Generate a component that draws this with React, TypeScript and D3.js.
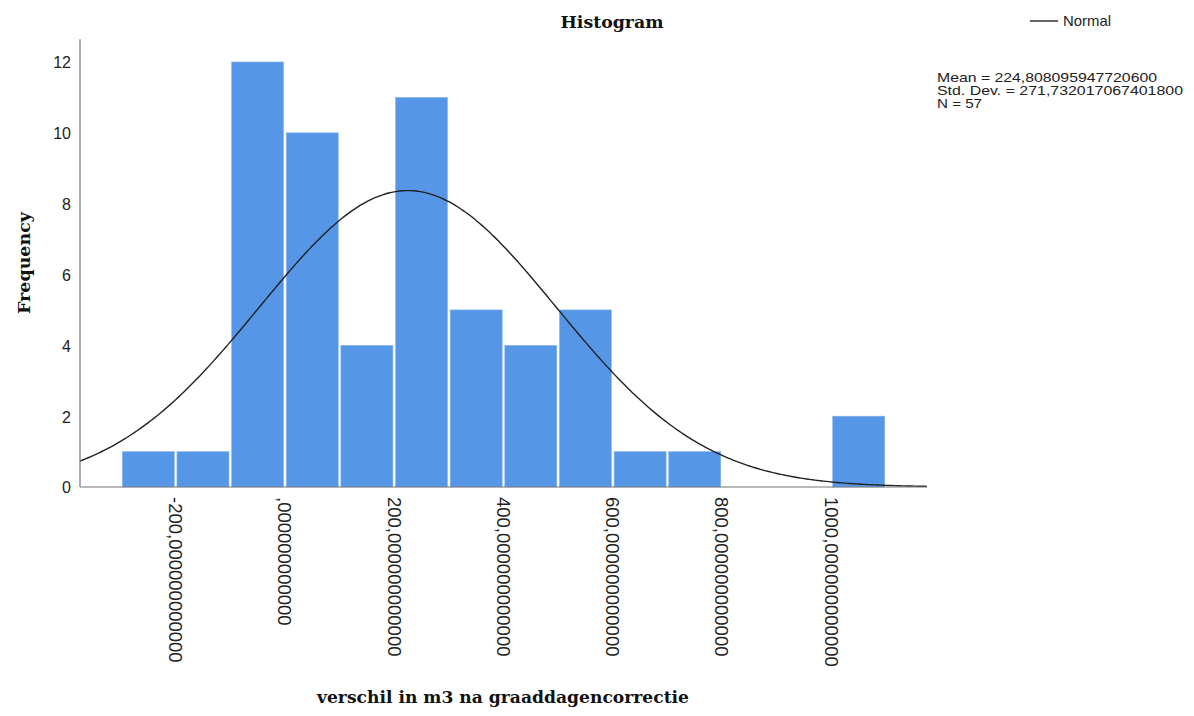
import React from "react";
import * as d3 from "d3";

const binStarts = [-300, -200, -100, 0, 100, 200, 300, 400, 500, 600, 700, 800, 900, 1000];
const counts = [1, 1, 12, 10, 4, 11, 5, 4, 5, 1, 1, 0, 0, 2];
const binWidth = 100;
const xTicks = [-200, 0, 200, 400, 600, 800, 1000];
const xTickLabels = ["-200,000000000000", ",000000000000", "200,000000000000", "400,000000000000", "600,000000000000", "800,000000000000", "1000,000000000000"];
const yTicks = [0, 2, 4, 6, 8, 10, 12];
const mean = 224.8080959477206;
const sd = 271.7320170674018;
const n = 57;
const statLines = ["Mean = 224,808095947720600", "Std. Dev. = 271,732017067401800", "N = 57"];
const statWidths = [220, 246, 45];

export default function App() {
  const W = 1194, H = 716;
  const x = d3.scaleLinear().domain([-375, 1175]).range([80, 927]);
  const y = d3.scaleLinear().domain([0, 12.64]).range([487, 39.3]);
  const pdf = (v: number) => Math.exp(-0.5 * ((v - mean) / sd) ** 2) / (sd * Math.sqrt(2 * Math.PI));
  const pts = d3.range(-375, 1175.01, 5).map((v) => [v, pdf(v) * n * binWidth] as [number, number]);
  const line = d3.line<[number, number]>().x((d) => x(d[0])).y((d) => y(d[1])).curve(d3.curveMonotoneX);
  const sans = "'Liberation Sans', Arial, sans-serif";
  const serif = "'DejaVu Serif', serif";
  return (
    <svg width={W} height={H} style={{ position: "absolute", left: 0, top: 0, background: "#fff" }}>
      <rect x={0} y={0} width={W} height={H} fill="#fff" />
      {binStarts.map((b, i) =>
        counts[i] > 0 ? (
          <rect
            key={i}
            x={x(b) + 1.3}
            y={y(counts[i])}
            width={x(b + binWidth) - x(b) - 2.6}
            height={y(0) - y(counts[i])}
            fill="#5596e6"
            stroke="#8db8ee"
            strokeWidth={0.6}
          />
        ) : null
      )}
      <path d={line(pts) || ""} fill="none" stroke="#222" strokeWidth={1.4} />
      <line x1={80} x2={927} y1={487} y2={487} stroke="#777" strokeWidth={1.2} />
      <line x1={80} x2={80} y1={39.3} y2={487} stroke="#777" strokeWidth={1.2} />
      {yTicks.map((t) => (
        <text key={t} x={71} y={y(t)} dy="0.4em" textAnchor="end" fontFamily={sans} fontSize={16} fill="#222">
          {t}
        </text>
      ))}
      {xTicks.map((t, i) => (
        <text key={t} transform={`translate(${x(t)},497) rotate(90)`} dy="0.36em" fontFamily={sans} fontSize={18.5} fill="#222">
          {xTickLabels[i]}
        </text>
      ))}
      <text x={612} y={28} textAnchor="middle" fontFamily={serif} fontWeight="bold" fontSize={17} fill="#111" textLength={103} lengthAdjust="spacingAndGlyphs">
        Histogram
      </text>
      <text x={503} y={703} textAnchor="middle" fontFamily={serif} fontWeight="bold" fontSize={17} fill="#111" textLength={372} lengthAdjust="spacingAndGlyphs">
        verschil in m3 na graaddagencorrectie
      </text>
      <text transform="translate(30,263) rotate(-90)" textAnchor="middle" fontFamily={serif} fontWeight="bold" fontSize={17} fill="#111" textLength={102} lengthAdjust="spacingAndGlyphs">
        Frequency
      </text>
      <line x1={1030} x2={1058} y1={21} y2={21} stroke="#222" strokeWidth={1.4} />
      <text x={1063} y={26} fontFamily={sans} fontSize={15} fill="#222" textLength={48} lengthAdjust="spacingAndGlyphs">
        Normal
      </text>
      {statLines.map((s, i) => (
        <text key={i} x={937} y={82 + i * 12.8} fontFamily={sans} fontSize={13.5} fill="#222" textLength={statWidths[i]} lengthAdjust="spacingAndGlyphs">
          {s}
        </text>
      ))}
    </svg>
  );
}
